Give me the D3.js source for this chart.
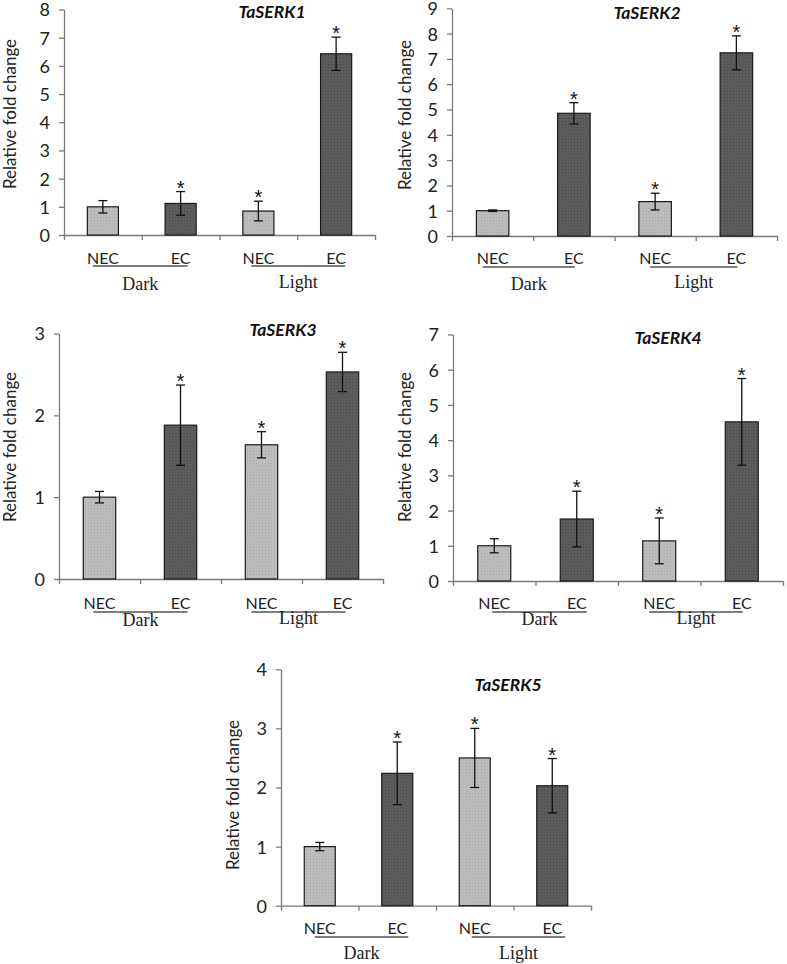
<!DOCTYPE html>
<html><head><meta charset="utf-8">
<script src="https://cdn.jsdelivr.net/npm/d3@7"></script>
<style>
html,body{margin:0;padding:0;background:#fff;}
svg{display:block;}
</style></head>
<body>
<script>
// ---------- DATA ----------
const categories = ["NEC", "EC", "NEC", "EC"];
const groups = ["Dark", "Light"];
const genes = ["TaSERK1", "TaSERK2", "TaSERK3", "TaSERK4", "TaSERK5"];
const yMaxValues = [8, 9, 3, 7, 4];

const serk1Means = [1.00, 1.12, 0.85, 6.43];
const serk1Errors = [0.22, 0.42, 0.35, 0.59];
const serk2Means = [1.00, 4.85, 1.36, 7.24];
const serk2Errors = [0.03, 0.42, 0.33, 0.67];
const serk3Means = [1.00, 1.88, 1.64, 2.53];
const serk3Errors = [0.07, 0.49, 0.16, 0.24];
const serk4Means = [1.00, 1.76, 1.14, 4.52];
const serk4Errors = [0.20, 0.79, 0.65, 1.23];
const serk5Means = [1.00, 2.24, 2.50, 2.03];
const serk5Errors = [0.07, 0.53, 0.50, 0.46];
const significant = [false, true, true, true];

const allMeans = [serk1Means, serk2Means, serk3Means, serk4Means, serk5Means];
const allErrors = [serk1Errors, serk2Errors, serk3Errors, serk4Errors, serk5Errors];

// ---------- LAYOUT ----------
const layouts = [
  {x0:64,  x1:375, y0:235, yT:9.5,  tx:272, ty:12,  lx:10,  ly:114, catY:258, ulY:266, grpY:[284,282], ul:[[-10,7],[-7,9]]},
  {x0:452, x1:777, y0:236, yT:8.3,  tx:647, ty:13,  lx:405, ly:115, catY:258, ulY:267, grpY:[284,282], ul:[[-10,1],[-5,1]]},
  {x0:59,  x1:383, y0:579, yT:333.5,tx:283, ty:330, lx:10,  ly:447, catY:603, ulY:612, grpY:[620,618], ul:[[-6,7],[-10,3]]},
  {x0:453, x1:783, y0:581, yT:334.5,tx:668, ty:338, lx:405, ly:447, catY:603, ulY:612, grpY:[619,618], ul:[[-2,10],[-10,1]]},
  {x0:281, x1:591, y0:905.7,yT:669.3,tx:508, ty:685, lx:233, ly:795, catY:928, ulY:937, grpY:[953,953], ul:[[-5,11],[-3,13]]}
];

const W = 787, H = 964;
const svg = d3.select("body").append("svg").attr("width", W).attr("height", H);

// textured fills (fine dots)
const defs = svg.append("defs");
function makePattern(id, c1, c2) {
  const p = defs.append("pattern").attr("id", id).attr("width", 3).attr("height", 3)
    .attr("patternUnits", "userSpaceOnUse");
  p.append("rect").attr("width", 3).attr("height", 3).attr("fill", c1);
  p.append("rect").attr("x", 1).attr("y", 1).attr("width", 1).attr("height", 1).attr("fill", c2);
}
makePattern("lightFill", "#bcbcbc", "#aaaaaa");
makePattern("darkFill", "#5c5c5c", "#4a4a4a");

const sans = "Lato, 'Open Sans', sans-serif";
const serif = "'Liberation Serif', 'DejaVu Serif', serif";

genes.forEach((gene, gi) => {
  const L = layouts[gi];
  const means = allMeans[gi], errs = allErrors[gi];
  const g = svg.append("g");

  const y = d3.scaleLinear().domain([0, yMaxValues[gi]]).range([L.y0, L.yT]);
  const x = d3.scaleBand().domain(d3.range(categories.length))
    .range([L.x0, L.x1]).paddingInner(0.6).paddingOuter(0.3);
  const xb = d3.scaleLinear().domain([0, categories.length]).range([L.x0, L.x1]);

  // y axis
  const ya = g.append("g").attr("transform", `translate(${L.x0},0)`)
    .call(d3.axisLeft(y).tickValues(d3.range(0, yMaxValues[gi] + 1)).tickFormat(d3.format("d"))
      .tickSize(5).tickSizeOuter(0).tickPadding(9));
  ya.select(".domain").attr("stroke", "#7a7a7a").attr("stroke-width", 1.3);
  ya.selectAll(".tick line").attr("stroke", "#7a7a7a").attr("stroke-width", 1.3);
  ya.selectAll(".tick text").attr("font-family", sans).attr("font-size", 18).attr("fill", "#222")
    .attr("dy", "0.36em");

  // x axis
  const xa = g.append("g").attr("transform", `translate(0,${L.y0})`)
    .call(d3.axisBottom(xb).tickValues(d3.range(0, categories.length + 1)).tickFormat("").tickSize(5).tickSizeOuter(0));
  xa.select(".domain").attr("stroke", "#7a7a7a").attr("stroke-width", 1.3);
  xa.selectAll(".tick line").attr("stroke", "#7a7a7a").attr("stroke-width", 1.3);

  // bars
  g.selectAll("rect.bar").data(means).join("rect").attr("class", "bar")
    .attr("x", (d, i) => x(i)).attr("width", x.bandwidth())
    .attr("y", d => y(d)).attr("height", d => y(0) - y(d))
    .attr("fill", (d, i) => categories[i] === "NEC" ? "url(#lightFill)" : "url(#darkFill)")
    .attr("stroke", "#1a1a1a").attr("stroke-width", 1.2);

  // error bars
  const cap = 4.5;
  means.forEach((m, i) => {
    const cx = x(i) + x.bandwidth() / 2;
    const e = errs[i];
    g.append("line").attr("x1", cx).attr("x2", cx).attr("y1", y(m + e)).attr("y2", y(m - e))
      .attr("stroke", "#111").attr("stroke-width", 1.3);
    [m + e, m - e].forEach(v => {
      g.append("line").attr("x1", cx - cap).attr("x2", cx + cap).attr("y1", y(v)).attr("y2", y(v))
        .attr("stroke", "#111").attr("stroke-width", 1.3);
    });
    if (significant[i]) {
      g.append("text").attr("x", cx).attr("y", y(m + e) + 3)
        .attr("text-anchor", "middle").attr("font-family", "'Liberation Sans', Arial, sans-serif")
        .attr("font-size", 20).attr("fill", "#111").text("*");
    }
    // category label
    g.append("text").attr("x", cx).attr("y", L.catY).attr("dy", "0.35em")
      .attr("text-anchor", "middle").attr("font-family", sans).attr("font-size", 16)
      .attr("fill", "#222").text(categories[i]);
  });

  // group underlines and labels
  groups.forEach((grp, k) => {
    const c0 = x(2 * k) + x.bandwidth() / 2, c1 = x(2 * k + 1) + x.bandwidth() / 2;
    const a = c0 + L.ul[k][0], b = c1 + L.ul[k][1];
    g.append("line").attr("x1", a).attr("x2", b).attr("y1", L.ulY).attr("y2", L.ulY)
      .attr("stroke", "#555").attr("stroke-width", 1.5);
    g.append("text").attr("x", (a + b) / 2).attr("y", L.grpY[k]).attr("dy", "0.35em")
      .attr("text-anchor", "middle").attr("font-family", serif).attr("font-size", 18)
      .attr("fill", "#222").text(grp);
  });

  // title
  g.append("text").attr("x", L.tx).attr("y", L.ty).attr("dy", "0.35em")
    .attr("text-anchor", "middle").attr("font-family", sans).attr("font-size", 17.5)
    .attr("font-weight", "bold").attr("font-style", "italic").attr("fill", "#111").text(gene);

  // y label
  g.append("text").attr("transform", `translate(${L.lx},${L.ly}) rotate(-90)`).attr("dy", "0.35em")
    .attr("text-anchor", "middle").attr("font-family", sans).attr("font-size", 17)
    .attr("fill", "#222").text("Relative fold change");
});
</script>
</body></html>
